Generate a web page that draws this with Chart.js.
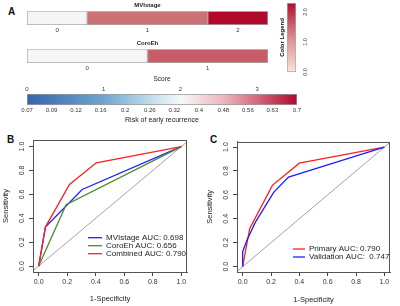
<!DOCTYPE html>
<html>
<head>
<meta charset="utf-8">
<script src="https://cdn.jsdelivr.net/npm/chart.js@4.4.1/dist/chart.umd.min.js"></script>
<style>
  body{margin:0;background:#fff;width:400px;height:306px;overflow:hidden;position:relative;font-family:'Liberation Sans',Arial,sans-serif;}
  canvas{position:absolute;}
  .tag{position:absolute;font-weight:bold;font-size:10px;color:#111;line-height:10px;}
</style>
</head>
<body>
<div class="tag" style="left:8px;top:7px">A</div>
<div class="tag" style="left:7px;top:135px">B</div>
<div class="tag" style="left:210px;top:135px">C</div>

<canvas id="mvi" width="260" height="36" style="left:20px;top:0px"></canvas>
<canvas id="coro" width="260" height="36" style="left:20px;top:38px"></canvas>
<canvas id="legendbar" width="50" height="76" style="left:270px;top:0px"></canvas>
<canvas id="score" width="320" height="52" style="left:0px;top:74px"></canvas>
<canvas id="rocB" width="200" height="176" style="left:0px;top:130px"></canvas>
<canvas id="rocC" width="196" height="176" style="left:204px;top:130px"></canvas>

<script>
// ---- data ----
const mviLevels = ['0', '1', '2'];
const mviWidths = [1, 2, 1];
const mviColors = ['#f5f5f5', '#cd7177', '#b2092a'];

const coroLevels = ['0', '1'];
const coroWidths = [1, 1];
const coroColors = ['#f5f5f5', '#c95c66'];

const legendTicks = [0, 1, 2];
const legendMax = 2.3;

const scoreTicks = [0, 1, 2, 3];
const scoreMax = 3.52;
const riskLabels = ['0.07','0.09','0.12','0.16','0.2','0.26','0.32','0.4','0.48','0.56','0.63','0.7'];

const rocTicks = [0, 0.2, 0.4, 0.6, 0.8, 1];
// panel B
const mviX  = [0, 0.047, 0.305, 1];
const mviY  = [0, 0.326, 0.641, 1];
const coroX = [0, 0.192, 1];
const coroY = [0, 0.513, 1];
const combX = [0, 0.047, 0.216, 0.404, 1];
const combY = [0, 0.326, 0.683, 0.864, 1];
// panel C
const primX  = [0, 0.02, 0.05, 0.21, 0.4, 1];
const primY  = [0, 0.13, 0.32, 0.68, 0.865, 1];
const validX = [0, 0, 0.03, 0.089, 0.22, 0.324, 1];
const validY = [0, 0.125, 0.22, 0.37, 0.623, 0.749, 1];

const FONT = "'Liberation Sans', Arial, sans-serif";
Chart.defaults.font.family = FONT;
Chart.defaults.color = '#222';
Chart.defaults.animation = false;

function pts(xs, ys){ return xs.map((x,i)=>({x:x, y:ys[i]})); }

function rotText(c, txt, x, y, font){
  c.save();
  c.translate(x, y);
  c.rotate(-Math.PI/2);
  c.font = font;
  c.textAlign = 'center';
  c.textBaseline = 'middle';
  c.fillText(txt, 0, 0);
  c.restore();
}

// stacked score bars (MVIstage, CoroEh)
function levelBar(id, title, levels, widths, colors){
  const total = widths.reduce((a,b)=>a+b,0);
  let acc = 0;
  const centers = widths.map(w=>{ const c = acc + w/2; acc += w; return c; });
  return new Chart(document.getElementById(id), {
    type: 'bar',
    data: {
      labels: [title],
      datasets: levels.map((lv,i)=>({
        label: lv, data: [widths[i]], backgroundColor: colors[i],
        borderColor: '#a9a9a9', borderWidth: 1, borderSkipped: false,
        barPercentage: 1, categoryPercentage: 1
      }))
    },
    options: {
      indexAxis: 'y', responsive: false,
      layout: {padding: {left: 7, right: 12}},
      plugins: {
        legend: {display: false}, tooltip: {enabled: false},
        title: {display: true, text: title, color: '#222', font: {size: 6, weight: 'bold'}, padding: {top: 1.5, bottom: 2.5}}
      },
      scales: {
        x: {
          stacked: true, min: 0, max: total,
          grid: {display: false, drawTicks: false}, border: {display: false},
          afterBuildTicks: s => { s.ticks = centers.map(v=>({value: v})); },
          afterFit: s => { s.height = 11; },
          ticks: {callback: (v,i)=>levels[i], font: {size: 6}, padding: 2, color: '#333', autoSkip: false, maxRotation: 0}
        },
        y: {stacked: true, display: false}
      }
    }
  });
}
levelBar('mvi', 'MVIstage', mviLevels, mviWidths, mviColors);
levelBar('coro', 'CoroEh', coroLevels, coroWidths, coroColors);

// colour legend
new Chart(document.getElementById('legendbar'), {
  type: 'bar',
  data: {
    labels: ['legend'],
    datasets: [{
      data: [[0, legendMax]],
      backgroundColor: ctx => {
        const a = ctx.chart.chartArea; if(!a) return '#ddd';
        const g = ctx.chart.ctx.createLinearGradient(0, a.bottom, 0, a.top);
        g.addColorStop(0, '#fae4d6'); g.addColorStop(0.5, '#dc8b90'); g.addColorStop(1, '#b0102c');
        return g;
      },
      borderColor: '#a9a9a9', borderWidth: 1, borderSkipped: false,
      barPercentage: 1, categoryPercentage: 1
    }]
  },
  options: {
    responsive: false,
    layout: {padding: {left: 17, right: 24, top: 3, bottom: 4}},
    plugins: {legend: {display: false}, tooltip: {enabled: false}},
    scales: {x: {display: false}, y: {display: false, min: 0, max: legendMax}}
  },
  plugins: [{
    id: 'legendLabels',
    afterDraw(chart){
      const c = chart.ctx, a = chart.chartArea, y = chart.scales.y;
      c.fillStyle = '#333';
      legendTicks.forEach(v => rotText(c, v.toFixed(1), a.right + 9, y.getPixelForValue(v), '5.5px ' + FONT));
      c.fillStyle = '#111';
      rotText(c, 'Color Legend', a.left - 5, (a.top + a.bottom)/2, 'bold 6px ' + FONT);
    }
  }]
});

// score / risk bar
new Chart(document.getElementById('score'), {
  type: 'bar',
  data: {
    labels: ['score'],
    datasets: [{
      data: [[0, scoreMax]], xAxisID: 'x',
      backgroundColor: ctx => {
        const a = ctx.chart.chartArea; if(!a) return '#ddd';
        const g = ctx.chart.ctx.createLinearGradient(a.left, 0, a.right, 0);
        g.addColorStop(0, '#3566ab'); g.addColorStop(0.28, '#6fa3cf'); g.addColorStop(0.45, '#bcdbeb');
        g.addColorStop(0.57, '#f6f8fa'); g.addColorStop(0.73, '#ecb5bd'); g.addColorStop(0.86, '#d06478');
        g.addColorStop(1, '#ab0a2c');
        return g;
      },
      borderColor: '#999', borderWidth: 1, borderSkipped: false,
      barPercentage: 1, categoryPercentage: 1
    }]
  },
  options: {
    indexAxis: 'y', responsive: false,
    layout: {padding: {left: 27, right: 23}},
    plugins: {legend: {display: false}, tooltip: {enabled: false}},
    scales: {
      x: {
        position: 'top', min: 0, max: scoreMax,
        grid: {display: false, drawTicks: false}, border: {display: false},
        afterBuildTicks: s => { s.ticks = scoreTicks.map(v=>({value: v})); },
        afterFit: s => { s.height = 20; },
        ticks: {font: {size: 6}, padding: 1, color: '#333', maxRotation: 0},
        title: {display: true, text: 'Score', font: {size: 6.5}, padding: {top: 1}}
      },
      x2: {
        position: 'bottom', min: 0, max: riskLabels.length - 1,
        grid: {display: false, drawTicks: false}, border: {display: false},
        afterBuildTicks: s => { s.ticks = riskLabels.map((_,i)=>({value: i})); },
        afterFit: s => { s.height = 21; },
        ticks: {callback: (v,i)=>riskLabels[i], font: {size: 6}, padding: 2, color: '#333', autoSkip: false, maxRotation: 0},
        title: {display: true, text: 'Risk of early recurrence', font: {size: 7}, padding: {bottom: 1.5}}
      },
      y: {display: false}
    }
  }
});

// ROC panels
const rocExtras = {
  id: 'rocExtras',
  afterDraw(chart, args, opts){
    const c = chart.ctx, a = chart.chartArea, y = chart.scales.y;
    c.save();
    c.strokeStyle = '#555'; c.lineWidth = 1;
    c.strokeRect(Math.round(a.left)+0.5, Math.round(a.top)+0.5, Math.round(a.right-a.left)-1, Math.round(a.bottom-a.top));
    c.fillStyle = '#333';
    y.ticks.forEach(t => rotText(c, t.value.toFixed(1), a.left - 11, y.getPixelForValue(t.value), '7px ' + FONT));
    // legend
    let row = 0;
    chart.data.datasets.forEach(ds => {
      if(!ds.label) return;
      const ly = a.top + opts.top + row*8;
      c.strokeStyle = ds.borderColor; c.lineWidth = 1.3;
      c.beginPath(); c.moveTo(a.left + opts.left, ly); c.lineTo(a.left + opts.left + opts.len, ly); c.stroke();
      c.fillStyle = '#222'; c.font = '8px ' + FONT; c.textAlign = 'left'; c.textBaseline = 'middle';
      c.fillText(ds.label, a.left + opts.left + opts.len + 4, ly);
      row++;
    });
    c.restore();
  }
};

function roc(id, series, leg, pad){
  const ds = series.map((s,i)=>({
    label: s.label, data: pts(s.x, s.y), borderColor: s.color, borderWidth: 1.3,
    pointRadius: 0, showLine: true, order: series.length - i
  }));
  ds.push({label: '', data: [{x:-0.1,y:-0.1},{x:1.1,y:1.1}], borderColor: '#8a8a8a', borderWidth: 0.8,
    pointRadius: 0, showLine: true, order: 99});
  return new Chart(document.getElementById(id), {
    type: 'scatter',
    data: {datasets: ds},
    options: {
      responsive: false,
      layout: {padding: {top: pad.top, right: pad.right}},
      plugins: {legend: {display: false}, tooltip: {enabled: false}, rocExtras: leg},
      scales: {
        x: {
          min: -0.04, max: 1.04,
          afterBuildTicks: s => { s.ticks = rocTicks.map(v=>({value: v})); },
          afterFit: s => { s.height = 34; },
          grid: {display: true, drawOnChartArea: false, drawTicks: true, tickLength: 4, color: '#444'},
          border: {display: true, color: '#555'},
          ticks: {callback: v => v.toFixed(1), font: {size: 7}, padding: 2, color: '#333', maxRotation: 0},
          title: {display: true, text: '1-Specificity', font: {size: 7.5}, padding: {bottom: pad.xTitle}}
        },
        y: {
          min: pad.ymin, max: pad.ymax,
          afterBuildTicks: s => { s.ticks = rocTicks.map(v=>({value: v})); },
          afterFit: s => { s.width = 33; },
          grid: {display: true, drawOnChartArea: false, drawTicks: true, tickLength: 4, color: '#444'},
          border: {display: true, color: '#555'},
          ticks: {display: false},
          title: {display: true, text: 'Sensitivity', font: {size: 7.5}, padding: {top: 1}}
        }
      }
    },
    plugins: [rocExtras]
  });
}

roc('rocB', [
  {label: 'MVIstage AUC: 0.698', x: mviX, y: mviY, color: '#1f1fff'},
  {label: 'CoroEh AUC: 0.656', x: coroX, y: coroY, color: '#4e8a2f'},
  {label: 'Combined AUC: 0.790', x: combX, y: combY, color: '#ff1f1f'}
], {left: 55, len: 14, top: 97.7}, {top: 10, right: 13, xTitle: 2.5, ymin: -0.05, ymax: 1.055});

roc('rocC', [
  {label: 'Primary AUC: 0.790', x: primX, y: primY, color: '#ff1f1f'},
  {label: 'Validation AUC:  0.747', x: validX, y: validY, color: '#1f1fff'}
], {left: 56, len: 12, top: 107.3}, {top: 11.7, right: 10, xTitle: 2, ymin: -0.045, ymax: 1.045});
</script>
</body>
</html>
